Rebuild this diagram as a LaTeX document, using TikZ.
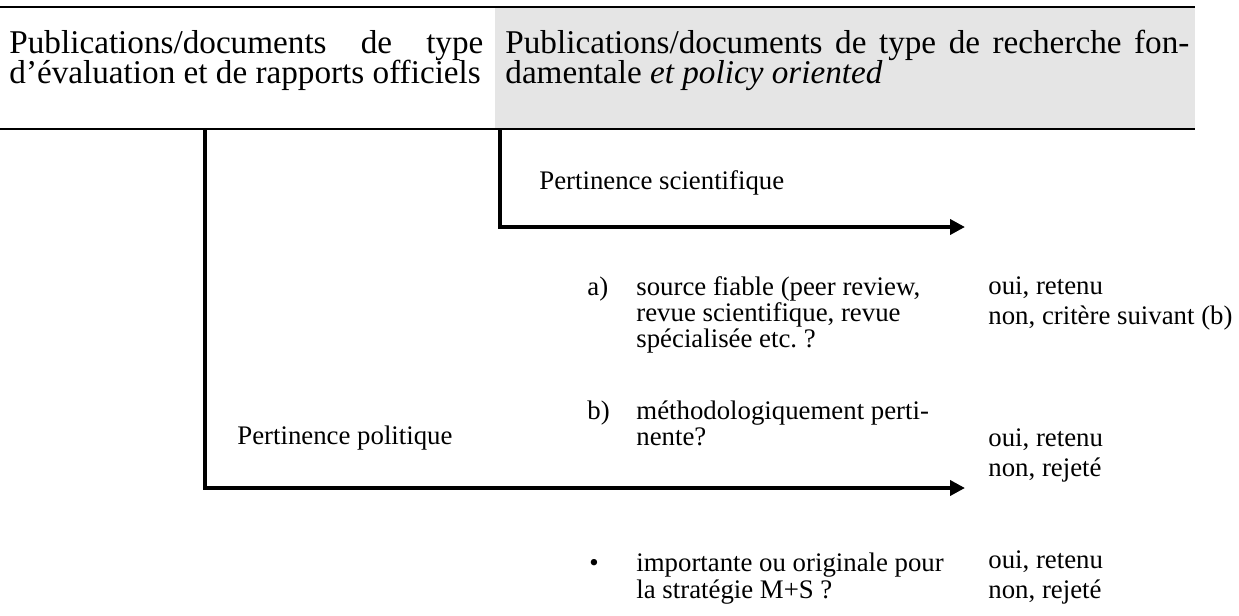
\documentclass[tikz,border=0pt]{standalone}
\usepackage{fontspec}
\setmainfont{Liberation Serif}
\usetikzlibrary{arrows.meta}
\tikzset{>={Triangle[width=7.5pt,length=7.5pt]}}
\frenchspacing

\begin{document}
\begin{tikzpicture}[x=0.5pt, y=-0.5pt,
    head/.style={anchor=base west, inner sep=0pt, font=\fontsize{16.6}{15}\selectfont},
    txt/.style={anchor=base west, inner sep=0pt, font=\fontsize{13.4}{13}\selectfont},
    rule/.style={line width=1pt},
    flow/.style={line width=2.2pt, ->} ]

    \useasboundingbox (0,0) rectangle (1239,616);

    %Header
    \fill[gray!20] (495,8) rectangle (1195,128);
    \draw[rule] (0,7) -- (1195,7);
    \draw[rule] (0,129) -- (1195,129);
    \node[head] (eval_l1) at (9,53) {\makebox[237pt][s]{Publications/documents de type}};
    \node[head] (eval_l2) at (9,83) {d’évaluation et de rapports officiels};
    \node[head] (rech_l1) at (505,53) {\makebox[342pt][s]{Publications/documents de type de recherche fon-}};
    \node[head] (rech_l2) at (505,83) {damentale \textit{et policy oriented}};

    %Nodes
    \node[txt] (sci) at (539,189) {Pertinence scientifique};
    \node[txt] (pol) at (237,444) {Pertinence politique};

    \node[txt] (a_lbl) at (587,295) {a)};
    \node[txt] (a_l1) at (636,295) {source fiable (peer review,};
    \node[txt] (a_l2) at (636,321) {revue scientifique, revue};
    \node[txt] (a_l3) at (636,347) {spécialisée etc. ?};
    \node[txt] (a_oui) at (988,294) {oui, retenu};
    \node[txt] (a_non) at (988,324) {non, critère suivant (b)};

    \node[txt] (b_lbl) at (587,419) {b)};
    \node[txt] (b_l1) at (636,419) {méthodologiquement perti-};
    \node[txt] (b_l2) at (636,445) {nente?};
    \node[txt] (b_oui) at (988,446) {oui, retenu};
    \node[txt] (b_non) at (988,476) {non, rejeté};

    \node[txt] (c_lbl) at (589,571) {•};
    \node[txt] (c_l1) at (636,571) {importante ou originale pour};
    \node[txt] (c_l2) at (636,598) {la stratégie M+S ?};
    \node[txt] (c_oui) at (988,568) {oui, retenu};
    \node[txt] (c_non) at (988,598) {non, rejeté};

    \coordinate (sci_start) at (500,129);
    \coordinate (sci_end) at (965,227);
    \coordinate (pol_start) at (205,129);
    \coordinate (pol_end) at (965,488);

    %Lines
    \draw[flow] (sci_start) |- (sci_end);
    \draw[flow] (pol_start) |- (pol_end);
\end{tikzpicture}
\end{document}
